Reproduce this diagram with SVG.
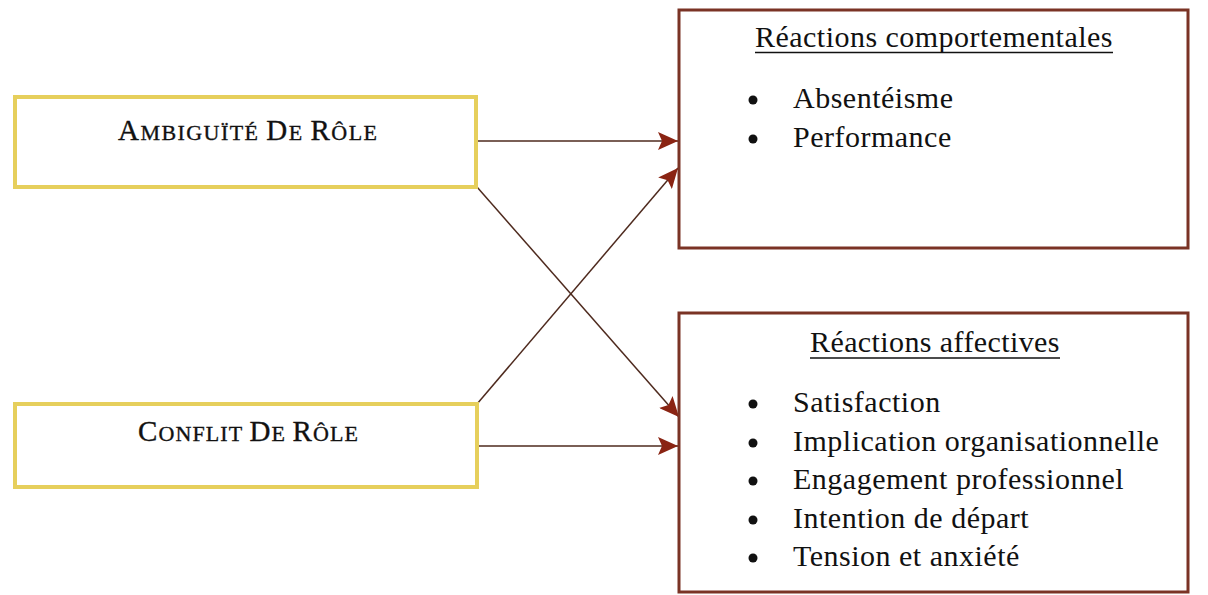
<svg xmlns="http://www.w3.org/2000/svg" width="1208" height="595" viewBox="0 0 1208 595">
  <defs>
    <style>
      .cause { fill: #ffffff; stroke: #e6cf5c; stroke-width: 4; }
      .effect { fill: #ffffff; stroke: #7a3325; stroke-width: 3; }
      .capt { font-family: "Liberation Serif", "Times New Roman", serif; fill: #111111; stroke: #111111; stroke-width: 0.35; }
      .big { font-size: 29px; }
      .sc { font-size: 22px; }
      .txt { font-family: "Liberation Serif", "Times New Roman", serif; font-size: 30px; fill: #111111; letter-spacing: 0.5px; }
      .ul { stroke: #111111; stroke-width: 1.5; }
      .bullet { fill: #111111; }
      .conn { stroke: #4e2a1e; stroke-width: 1.5; fill: none; marker-end: url(#arrow); }
    </style>
    <marker id="arrow" viewBox="0 0 20 18" refX="20" refY="9" markerWidth="20" markerHeight="18" markerUnits="userSpaceOnUse" orient="auto">
      <path d="M0,0 L20,9 L0,18 L4,9 Z" fill="#8a2413"/>
    </marker>
  </defs>

  <rect width="1208" height="595" fill="#ffffff"/>

  <g id="connectors">
    <line class="conn" x1="477" y1="141" x2="678" y2="141"/>
    <line class="conn" x1="477" y1="187" x2="679" y2="417"/>
    <line class="conn" x1="477" y1="404" x2="678" y2="168"/>
    <line class="conn" x1="478" y1="446" x2="678" y2="446"/>
  </g>

  <g id="node-ambiguite">
    <rect class="cause" x="15" y="97" width="461" height="90"/>
    <text class="capt" x="247.5" y="140" text-anchor="middle" textLength="259" lengthAdjust="spacing"><tspan class="big">A</tspan><tspan class="sc">MBIGUÏTÉ </tspan><tspan class="big">D</tspan><tspan class="sc">E </tspan><tspan class="big">R</tspan><tspan class="sc">ÔLE</tspan></text>
  </g>

  <g id="node-conflit">
    <rect class="cause" x="15" y="404" width="462" height="83"/>
    <text class="capt" x="248" y="441" text-anchor="middle" textLength="220" lengthAdjust="spacing"><tspan class="big">C</tspan><tspan class="sc">ONFLIT </tspan><tspan class="big">D</tspan><tspan class="sc">E </tspan><tspan class="big">R</tspan><tspan class="sc">ÔLE</tspan></text>
  </g>

  <g id="node-comportementales">
    <rect class="effect" x="679" y="10" width="509" height="238"/>
    <text class="txt" x="755" y="47" textLength="358" lengthAdjust="spacing">Réactions comportementales</text>
    <line class="ul" x1="755" y1="52.5" x2="1113" y2="52.5"/>
    <circle class="bullet" cx="753" cy="100" r="4.5"/>
    <text class="txt" x="793" y="108">Absentéisme</text>
    <circle class="bullet" cx="753" cy="139" r="4.5"/>
    <text class="txt" x="793" y="147">Performance</text>
  </g>

  <g id="node-affectives">
    <rect class="effect" x="679" y="313" width="509" height="279"/>
    <text class="txt" x="810" y="352" textLength="250" lengthAdjust="spacing">Réactions affectives</text>
    <line class="ul" x1="810" y1="358" x2="1060" y2="358"/>
    <circle class="bullet" cx="753" cy="404" r="4.5"/>
    <text class="txt" x="793" y="412">Satisfaction</text>
    <circle class="bullet" cx="753" cy="443" r="4.5"/>
    <text class="txt" x="793" y="451">Implication organisationnelle</text>
    <circle class="bullet" cx="753" cy="481" r="4.5"/>
    <text class="txt" x="793" y="489">Engagement professionnel</text>
    <circle class="bullet" cx="753" cy="520" r="4.5"/>
    <text class="txt" x="793" y="528">Intention de départ</text>
    <circle class="bullet" cx="753" cy="558" r="4.5"/>
    <text class="txt" x="793" y="566">Tension et anxiété</text>
  </g>
</svg>
